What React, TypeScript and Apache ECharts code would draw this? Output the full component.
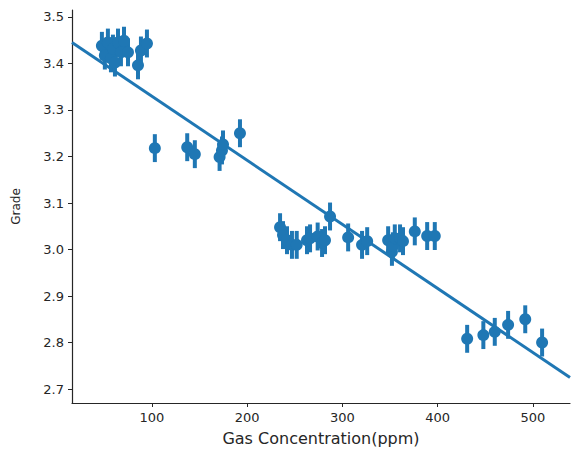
import React, { useEffect, useRef } from "react";
import * as echarts from "echarts";

// Gas concentration (ppm) for each estimated point
const gasPpm = [
  47.4, 50.5, 53.7, 56.9, 59, 61.1, 64.3, 67.4, 70.6, 74.8, 85.3, 88.4, 94.7,
  103, 137, 145, 171, 173.5, 174.6, 192.4,
  234.5, 237.6, 241.8, 247, 252, 262.8, 266, 274, 278.6, 281.7, 287,
  306, 320.6, 326, 348, 352, 353, 355, 360.5, 363.6, 376, 389, 397,
  431, 448, 460, 474, 492, 509.7,
];
// Mean grade for each point
const grade = [
  3.438, 3.417, 3.445, 3.411, 3.432, 3.402, 3.445, 3.424, 3.449, 3.424, 3.396, 3.428, 3.443,
  3.218, 3.22, 3.205, 3.199, 3.213, 3.226, 3.25,
  3.048, 3.031, 3.02, 3.01, 3.01, 3.02, 3.024, 3.028, 3.014, 3.02, 3.071,
  3.026, 3.01, 3.018, 3.02, 2.995, 3.007, 3.024, 3.024, 3.018, 3.039, 3.029, 3.029,
  2.808, 2.816, 2.823, 2.838, 2.85, 2.8,
];
// Half-length of the confidence interval bars
const errHalf = [
  0.03, 0.03, 0.03, 0.03, 0.03, 0.03, 0.03, 0.03, 0.03, 0.03, 0.03, 0.03, 0.03,
  0.03, 0.03, 0.03, 0.03, 0.03, 0.03, 0.03,
  0.03, 0.03, 0.03, 0.03, 0.03, 0.03, 0.03, 0.03, 0.03, 0.03, 0.03,
  0.03, 0.03, 0.03, 0.03, 0.03, 0.03, 0.03, 0.03, 0.03, 0.03, 0.03, 0.03,
  0.03, 0.03, 0.03, 0.03, 0.03, 0.03,
];
// Axis limits and regression line endpoints (at the axis limits)
const xRange = [16, 539];
const yRange = [2.67, 3.515];
const regLine = [
  [16, 3.445],
  [539, 2.725],
];
const xTicks = [100, 200, 300, 400, 500];
const yTicks = [2.7, 2.8, 2.9, 3.0, 3.1, 3.2, 3.3, 3.4, 3.5];

const BLUE = "#1f77b4";
const INK = "#262626";

export default function App() {
  const ref = useRef<HTMLDivElement>(null);
  useEffect(() => {
    if (!ref.current) return;
    const chart = echarts.init(ref.current, undefined, { renderer: "svg" });
    const points = gasPpm.map((x, i) => [x, grade[i]]);
    const bars = gasPpm.map((x, i) => [x, grade[i] - errHalf[i], grade[i] + errHalf[i]]);
    const axisCommon = {
      axisLine: { show: true, lineStyle: { color: INK, width: 1.2 } },
      axisTick: { show: true, inside: false, length: 4, lineStyle: { color: INK, width: 1 } },
      splitLine: { show: false },
    };
    chart.setOption({
      animation: false,
      backgroundColor: "#ffffff",
      textStyle: { fontFamily: "DejaVu Sans" },
      grid: { left: 72, right: 4, top: 10, bottom: 44, containLabel: false },
      xAxis: {
        type: "value",
        min: xRange[0],
        max: xRange[1],
        ...axisCommon,
        axisTick: { ...axisCommon.axisTick, customValues: xTicks },
        axisLabel: {
          customValues: xTicks,
          color: INK,
          fontSize: 13,
          margin: 8,
          fontFamily: "DejaVu Sans",
        },
        name: "Gas Concentration(ppm)",
        nameLocation: "middle",
        nameGap: 27,
        nameTextStyle: { color: INK, fontSize: 16, fontFamily: "DejaVu Sans" },
      },
      yAxis: {
        type: "value",
        min: yRange[0],
        max: yRange[1],
        ...axisCommon,
        axisTick: { ...axisCommon.axisTick, customValues: yTicks },
        axisLabel: {
          customValues: yTicks,
          color: INK,
          fontSize: 13,
          margin: 8,
          fontFamily: "DejaVu Sans",
          formatter: (v: number) => v.toFixed(1),
        },
        name: "Grade",
        nameLocation: "middle",
        nameGap: 50,
        nameRotate: 90,
        nameTextStyle: { color: INK, fontSize: 12, fontFamily: "DejaVu Sans" },
      },
      series: [
        {
          type: "line",
          data: regLine,
          showSymbol: false,
          lineStyle: { color: BLUE, width: 3 },
          z: 1,
        },
        {
          type: "custom",
          data: bars,
          encode: { x: 0, y: [1, 2] },
          renderItem: (params: any, api: any) => {
            const x = api.value(0);
            const lo = api.coord([x, api.value(1)]);
            const hi = api.coord([x, api.value(2)]);
            return {
              type: "line",
              shape: { x1: lo[0], y1: lo[1], x2: hi[0], y2: hi[1] },
              style: { stroke: BLUE, lineWidth: 4 },
            };
          },
          z: 2,
        },
        {
          type: "scatter",
          data: points,
          symbol: "circle",
          symbolSize: 12,
          itemStyle: { color: BLUE, opacity: 1 },
          z: 3,
        },
      ],
    });
    return () => chart.dispose();
  }, []);
  return (
    <div
      ref={ref}
      style={{ position: "fixed", left: 0, top: 0, width: 574, height: 451, background: "#fff" }}
    />
  );
}
